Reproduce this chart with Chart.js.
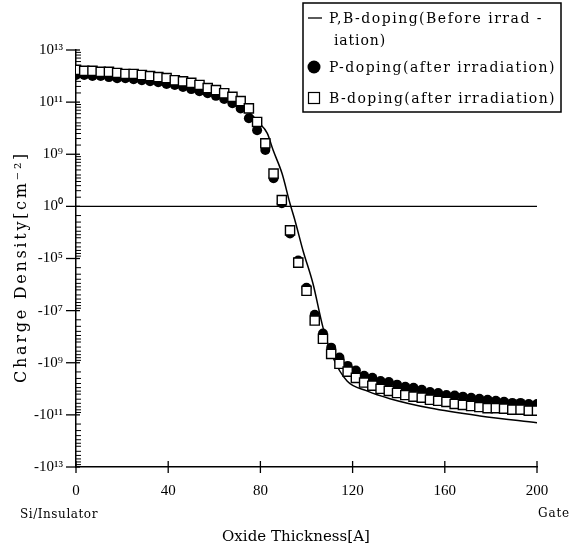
<!DOCTYPE html>
<html>
<head>
<meta charset="utf-8">
<script src="https://cdn.jsdelivr.net/npm/chart.js@4.4.1/dist/chart.umd.min.js"></script>
<style>
  body { margin: 0; background: #fff; }
  #wrap { width: 574px; height: 547px; position: relative; }
</style>
</head>
<body>
<div id="wrap"><canvas id="grafica"></canvas></div>
<script>
// oxide thickness [A] of each measured point
const thickness = [0, 3.57, 7.14, 10.71, 14.29, 17.86, 21.43, 25, 28.57, 32.14, 35.71, 39.29, 42.86, 46.43,
  50, 53.57, 57.14, 60.71, 64.29, 67.86, 71.43, 75, 78.57, 82.14, 85.71, 89.29, 92.86, 96.43, 100, 103.57,
  107.14, 110.71, 114.29, 117.86, 121.43, 125, 128.57, 132.14, 135.71, 139.29, 142.86, 146.43, 150, 153.57,
  157.14, 160.71, 164.29, 167.86, 171.43, 175, 178.57, 182.14, 185.71, 189.29, 192.86, 196.43, 200];

// charge density, in axis tick steps (+3 = 10^13 ... 0 ... -5 = -10^13)
const pDoping = [2.52, 2.52, 2.50, 2.50, 2.48, 2.46, 2.46, 2.44, 2.42, 2.40, 2.38, 2.35, 2.33, 2.29, 2.25,
  2.21, 2.17, 2.12, 2.06, 1.98, 1.88, 1.69, 1.46, 1.08, 0.54, 0.06, -0.52, -1.04, -1.56, -2.08, -2.44,
  -2.71, -2.90, -3.06, -3.15, -3.25, -3.29, -3.35, -3.37, -3.42, -3.46, -3.48, -3.52, -3.56, -3.58, -3.62,
  -3.63, -3.65, -3.67, -3.69, -3.71, -3.73, -3.75, -3.77, -3.77, -3.79, -3.79];
const bDoping = [2.62, 2.60, 2.60, 2.58, 2.58, 2.56, 2.54, 2.54, 2.52, 2.50, 2.48, 2.46, 2.42, 2.40, 2.37,
  2.33, 2.27, 2.23, 2.17, 2.10, 2.02, 1.88, 1.62, 1.21, 0.63, 0.12, -0.46, -1.08, -1.62, -2.19, -2.54,
  -2.83, -3.02, -3.17, -3.29, -3.38, -3.44, -3.50, -3.54, -3.58, -3.62, -3.65, -3.67, -3.71, -3.73, -3.75,
  -3.79, -3.81, -3.83, -3.85, -3.87, -3.87, -3.88, -3.90, -3.90, -3.92, -3.92];

// before irradiation (calculated curve)
const beforeX = [0, 19, 32, 45, 54, 62.5, 69, 75.5, 79, 83, 85.5, 89.4, 92.8, 95, 98.5, 102.8, 107.2,
  111.5, 117.6, 126.2, 136.2, 153.6, 175.3, 200];
const beforeY = [2.58, 2.54, 2.46, 2.37, 2.27, 2.13, 1.98, 1.79, 1.62, 1.40, 1.08, 0.63, 0.06, -0.27,
  -0.85, -1.48, -2.33, -2.90, -3.35, -3.54, -3.69, -3.87, -4.02, -4.15];

// tick labels from top (+3) to bottom (-5)
const yTickLabels = ['10¹³', '10¹¹', '10⁹', '10⁰', '-10⁵', '-10⁷', '-10⁹', '-10¹¹', '-10¹³'];
const xTickStep = 40;

const SERIF = "'DejaVu Serif', 'Liberation Serif', serif";
const TICKFONT = "'Liberation Serif', serif";
const minorK = [1.5, 2, 2.5, 3, 3.5, 4, 5, 6, 7, 8, 9];

function fitText(ctx, text, x, y, w) {
  ctx.letterSpacing = '0px';
  const m = ctx.measureText(text).width;
  const n = [...text].length;
  ctx.letterSpacing = ((w - m) / n).toFixed(2) + 'px';
  ctx.fillText(text, x, y);
  ctx.letterSpacing = '0px';
}

const decor = {
  id: 'decor',
  beforeDatasetsDraw(chart) {
    const { ctx, scales: { x, y } } = chart;
    const seg = (a, b, c, d) => { ctx.beginPath(); ctx.moveTo(a, b); ctx.lineTo(c, d); ctx.stroke(); };
    ctx.save();
    ctx.strokeStyle = '#000';
    ctx.lineWidth = 1.3;
    const y0 = y.getPixelForValue(0);
    seg(x.left, y0, x.right, y0);
    for (let v = -5; v <= 3; v++) {
      const py = y.getPixelForValue(v);
      seg(x.left - 10, py, x.left + 4, py);
    }
    ctx.lineWidth = 1;
    for (let n = -5; n < 3; n++) {
      for (const k of minorK) {
        const f = Math.log10(k);
        const v = n >= 0 ? n + f : n + 1 - f;
        const py = y.getPixelForValue(v);
        seg(x.left, py, x.left + 5, py);
      }
    }
    ctx.lineWidth = 1.3;
    for (let v = 0; v <= 200; v += xTickStep) {
      const px = x.getPixelForValue(v);
      seg(px, y.bottom - 6, px, y.bottom + 6);
    }
    ctx.restore();
  },
  afterDraw(chart) {
    const { ctx } = chart;
    ctx.save();
    ctx.fillStyle = '#000';
    ctx.strokeStyle = '#000';
    ctx.textBaseline = 'middle';
    ctx.textAlign = 'left';

    // axis titles and end labels
    ctx.font = '15px ' + SERIF;
    fitText(ctx, 'Oxide Thickness[A]', 222, 537, 148);
    ctx.font = '12px ' + SERIF;
    fitText(ctx, 'Si/Insulator', 20, 515, 78);
    fitText(ctx, 'Gate', 538, 514, 32);
    ctx.save();
    ctx.translate(22, 383);
    ctx.rotate(-Math.PI / 2);
    ctx.font = '16px ' + SERIF;
    fitText(ctx, 'Charge Density[cm⁻²]', 0, 0, 232);
    ctx.restore();

    // legend box
    ctx.fillStyle = '#fff';
    ctx.fillRect(303, 3, 258, 109);
    ctx.lineWidth = 1.5;
    ctx.strokeRect(303, 3, 258, 109);
    ctx.fillStyle = '#000';
    ctx.font = '14px ' + SERIF;
    ctx.lineWidth = 1.3;
    ctx.beginPath(); ctx.moveTo(308, 18); ctx.lineTo(322, 18); ctx.stroke();
    fitText(ctx, 'P,B-doping(Before irrad -', 329, 19, 214);
    fitText(ctx, 'iation)', 334, 41, 52);
    ctx.beginPath(); ctx.arc(314, 67, 6.5, 0, Math.PI * 2); ctx.fill();
    fitText(ctx, 'P-doping(after irradiation)', 329, 68, 227);
    ctx.lineWidth = 1.2;
    ctx.strokeRect(308.5, 92.5, 11, 11);
    fitText(ctx, 'B-doping(after irradiation)', 329, 99, 227);
    ctx.restore();
  }
};

const graph = document.getElementById('grafica');
const myChart = new Chart(graph, {
  type: 'scatter',
  data: {
    datasets: [
      {
        label: 'B-doping(after irradiation)',
        data: thickness.map((t, i) => ({ x: t, y: bDoping[i] })),
        pointStyle: 'rect',
        pointRadius: 6.5,
        pointBackgroundColor: '#fff',
        pointBorderColor: '#000',
        pointBorderWidth: 1.4,
        order: 0,
      },
      {
        label: 'P-doping(after irradiation)',
        data: thickness.map((t, i) => ({ x: t, y: pDoping[i] })),
        pointStyle: 'circle',
        pointRadius: 5,
        pointBackgroundColor: '#000',
        pointBorderColor: '#000',
        pointBorderWidth: 0,
        order: 1,
      },
      {
        type: 'line',
        label: 'P,B-doping(Before irradiation)',
        data: beforeX.map((t, i) => ({ x: t, y: beforeY[i] })),
        borderColor: '#000',
        borderWidth: 1.5,
        pointRadius: 0,
        fill: false,
        cubicInterpolationMode: 'monotone',
        order: 2,
      },
    ],
  },
  options: {
    responsive: true,
    maintainAspectRatio: false,
    animation: false,
    layout: { padding: { top: 50, right: 37, left: 0, bottom: 0 } },
    plugins: { legend: { display: false }, tooltip: { enabled: false } },
    scales: {
      x: {
        type: 'linear',
        min: 0,
        max: 200,
        afterFit: (s) => { s.height = 80; },
        grid: { drawOnChartArea: false, drawTicks: false },
        border: { display: true, color: '#000', width: 1.5 },
        ticks: { stepSize: xTickStep, padding: 15, color: '#000', font: { family: TICKFONT, size: 15 } },
      },
      y: {
        type: 'linear',
        min: -5,
        max: 3,
        afterFit: (s) => { s.width = 76; },
        grid: { drawOnChartArea: false, drawTicks: false },
        border: { display: true, color: '#000', width: 1.5 },
        ticks: {
          stepSize: 1,
          padding: 13,
          color: '#000',
          font: { family: TICKFONT, size: 15 },
          callback: (v) => yTickLabels[3 - v],
        },
      },
    },
  },
  plugins: [decor],
});
</script>
</body>
</html>
